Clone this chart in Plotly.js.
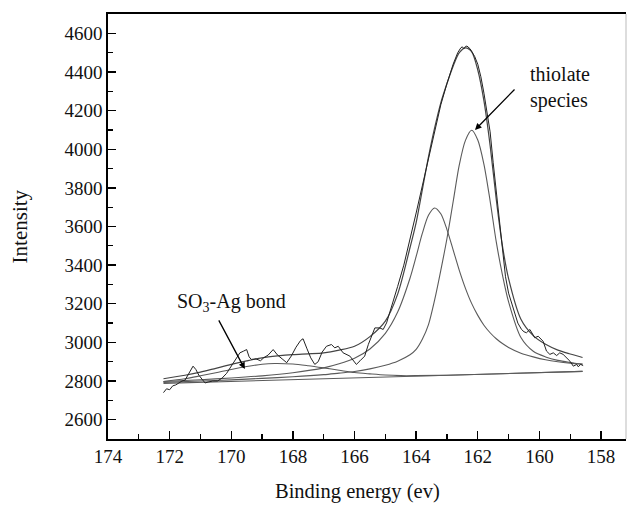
<!DOCTYPE html>
<html>
<head>
<meta charset="utf-8">
<script src="https://cdn.plot.ly/plotly-3.0.1.min.js"></script>
<style>html,body{margin:0;padding:0;background:#fff;}#chart{width:627px;height:505px;}</style>
</head>
<body>
<div id="chart"></div>
<script>
// Raw spectrum (binding energy, intensity)
const dataEnergy = [172.2,172.1,172.0,171.9,171.8,171.7,171.6,171.5,171.4,171.3,
171.24,171.15,171.05,170.95,170.85,170.75,170.6,170.45,170.3,170.15,
169.94,169.8,169.72,169.6,169.5,169.42,169.35,169.2,169.05,168.95,
168.8,168.64,168.5,168.35,168.2,168.05,167.9,167.75,167.67,167.55,
167.42,167.29,167.18,167.05,166.91,166.75,166.64,166.53,166.37,166.15,
165.94,165.82,165.67,165.55,165.45,165.34,165.18,165.07,164.96,164.8,
164.6,164.4,164.2,164.0,163.8,163.6,163.4,163.2,163.0,162.8,
162.65,162.55,162.5,162.45,162.4,162.35,162.25,162.1,162.0,161.9,
161.8,161.7,161.6,161.5,161.4,161.28,161.2,161.1,161.0,160.92,
160.84,160.7,160.58,160.5,160.42,160.31,160.15,160.04,159.88,159.77,
159.66,159.55,159.44,159.34,159.23,159.12,159.01,158.9,158.79,158.74,
158.66,158.58];
const dataIntensity = [2740,2760,2755,2775,2780,2790,2800,2805,2830,2860,
2877,2860,2830,2810,2790,2795,2800,2800,2815,2840,
2895,2925,2946,2955,2963,2925,2912,2915,2905,2920,
2935,2963,2935,2915,2895,2930,2975,3010,3019,2970,
2920,2886,2900,2950,2980,2989,2972,2980,2946,2929,
2886,2905,2929,2990,3032,3075,3075,3067,3101,3180,
3290,3400,3530,3670,3810,3950,4100,4230,4340,4440,
4500,4525,4530,4520,4532,4534,4520,4480,4440,4375,
4290,4200,4090,3930,3780,3583,3460,3340,3255,3210,
3170,3100,3067,3055,3050,3067,3024,3032,3006,2955,
2938,2946,2932,2946,2938,2920,2903,2877,2886,2874,
2886,2880];

// Fitted envelope
const envelopeEnergy = [172.2,171.5,171,170.5,170,169.5,169,168.5,168,167.5,167,166.5,166,165.5,165,164.6,164.2,164,163.8,163.6,163.4,163.2,163,162.8,162.6,162.4,162.2,162,161.8,161.6,161.4,161.2,161,160.6,160.2,159.8,159.4,159,158.6];
const envelopeIntensity = [2812,2830,2846,2866,2886,2904,2920,2930,2937,2941,2946,2960,2980,3030,3110,3250,3490,3620,3790,3960,4110,4240,4340,4430,4500,4525,4505,4410,4250,4020,3740,3500,3330,3120,3035,2990,2960,2940,2922];

// Component peaks (on baseline)
const peakEnergy = [172.2,171,170,169,168,167,166.5,166,165.5,165,164.6,164.2,164,163.8,163.6,163.4,163.2,163,162.8,162.6,162.4,162.2,162,161.8,161.6,161.4,161.2,161,160.6,160.2,159.8,159.4,159,158.6];
const peak163Intensity = [2798,2807,2816,2827,2843,2868,2889,2918,2966,3047,3157,3332,3445,3564,3658,3696,3666,3584,3479,3373,3280,3202,3140,3089,3050,3019,2994,2974,2944,2925,2910,2900,2893,2888];
const thiolateIntensity = [2793,2800,2806,2814,2822,2833,2841,2849,2863,2882,2903,2936,2964,3016,3092,3220,3373,3538,3728,3919,4046,4098,4048,3922,3733,3520,3350,3210,3025,2954,2925,2907,2896,2887];

// SO3-Ag component
const so3Energy = [172.2,171.5,171,170.5,170,169.5,169,168.6,168,167.5,167,166.5,166,165.5,165,164.5,164,163,158.6];
const so3Intensity = [2798,2812,2827,2843,2860,2875,2887,2891,2888,2879,2868,2856,2844,2837,2831,2828,2828,2830,2850];

// Linear background
const baselineEnergy = [172.2,158.6];
const baselineIntensity = [2788,2850];

const xTickVals = [174,172,170,168,166,164,162,160,158];
const yTickVals = [2600,2800,3000,3200,3400,3600,3800,4000,4200,4400,4600];

const serif = 'Liberation Serif, Times New Roman, serif';
const fitLine = {color:'#5a5a5a', width:1.1, shape:'spline', smoothing:0.8};

const traces = [
  {x:baselineEnergy, y:baselineIntensity, mode:'lines', line:{color:'#5a5a5a', width:1.1}},
  {x:so3Energy, y:so3Intensity, mode:'lines', line:fitLine},
  {x:peakEnergy, y:peak163Intensity, mode:'lines', line:fitLine},
  {x:peakEnergy, y:thiolateIntensity, mode:'lines', line:fitLine},
  {x:envelopeEnergy, y:envelopeIntensity, mode:'lines', line:{color:'#444', width:1.2, shape:'spline', smoothing:0.8}},
  {x:dataEnergy, y:dataIntensity, mode:'lines', line:{color:'#222', width:1}}
];

const axisCommon = {
  showgrid:false, zeroline:false, showline:true, linecolor:'#000', linewidth:1.6,
  ticks:'inside', ticklen:8, tickwidth:1.4, tickcolor:'#000',
  tickfont:{family:serif, size:19, color:'#111'}
};

const layout = {
  width:627, height:505,
  margin:{l:108, r:1, t:14, b:66},
  paper_bgcolor:'#fff', plot_bgcolor:'#fff',
  showlegend:false,
  xaxis: Object.assign({}, axisCommon, {
    range:[174,157.19], tickmode:'array', tickvals:xTickVals, mirror:true,
    minor:{dtick:1, tick0:174, ticks:'inside', ticklen:5, tickwidth:1.2, tickcolor:'#000'}
  }),
  yaxis: Object.assign({}, axisCommon, {
    range:[2500,4700], tickmode:'array', tickvals:yTickVals,
    minor:{dtick:100, tick0:2500, ticks:'inside', ticklen:5, tickwidth:1.2, tickcolor:'#000'}
  }),
  shapes:[
    {type:'line', xref:'paper', yref:'paper', x0:1, x1:1, y0:0, y1:1, line:{color:'#bbb', width:1}}
  ],
  annotations:[
    {xref:'paper', yref:'paper', x:-0.17, y:0.5, text:'Intensity', textangle:-90, showarrow:false,
     xanchor:'center', yanchor:'middle', font:{family:serif, size:21, color:'#111'}},
    {xref:'paper', yref:'paper', x:0.4807, y:-0.123, text:'Binding energy (ev)', showarrow:false,
     xanchor:'center', yanchor:'middle', font:{family:serif, size:20.5, color:'#111'}},
    {x:160.38, y:4317, text:'thiolate<br>species', showarrow:false, xanchor:'left', yanchor:'middle', align:'left',
     font:{family:serif, size:20, color:'#111'}},
    {x:171.83, y:3206, text:'SO<sub>3</sub>-Ag bond', showarrow:false, xanchor:'left', yanchor:'middle',
     font:{family:serif, size:20, color:'#111'}},
    {x:162.09, y:4100, ax:160.76, ay:4317, axref:'x', ayref:'y', text:'', showarrow:true,
     arrowhead:2, arrowsize:1, arrowwidth:1.3, arrowcolor:'#000', standoff:0},
    {x:169.56, y:2862, ax:170.43, ay:3122, axref:'x', ayref:'y', text:'', showarrow:true,
     arrowhead:2, arrowsize:1, arrowwidth:1.3, arrowcolor:'#000', standoff:0}
  ]
};

Plotly.newPlot('chart', traces, layout, {staticPlot:true, displayModeBar:false});
</script>
</body>
</html>
